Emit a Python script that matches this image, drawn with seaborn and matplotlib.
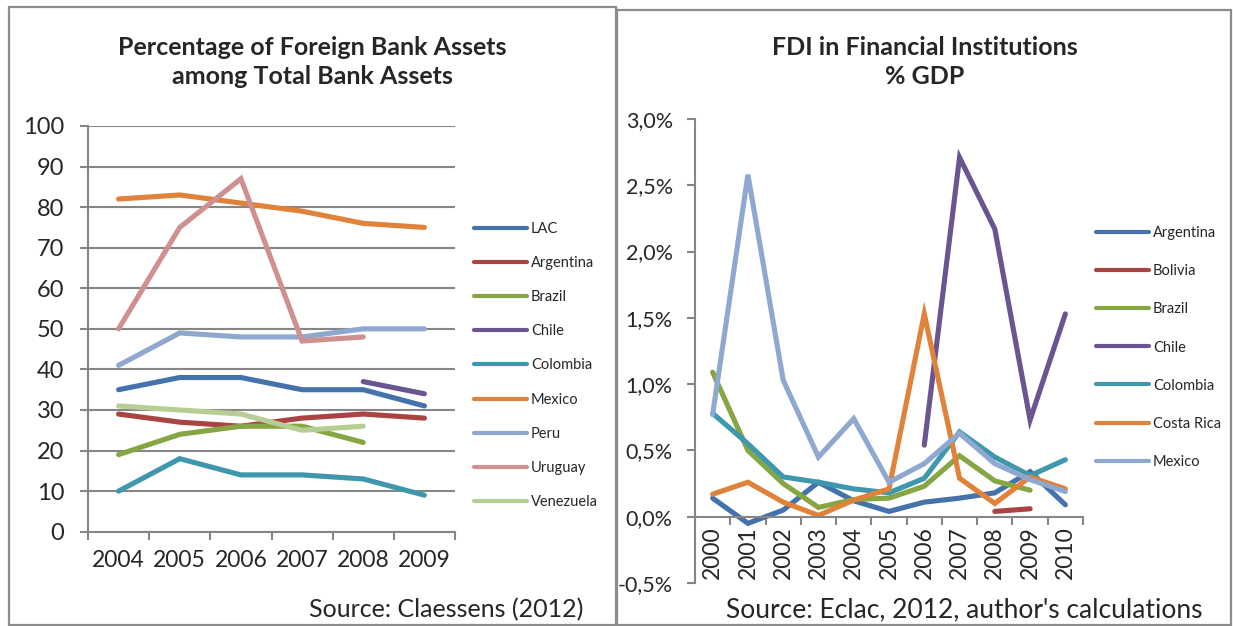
import numpy as np
import pandas as pd
import matplotlib
matplotlib.use("Agg")
import matplotlib.pyplot as plt
import seaborn as sns
from matplotlib.lines import Line2D
from matplotlib.patches import Rectangle
from matplotlib.ticker import FixedLocator, FuncFormatter

# Left chart: foreign bank assets share (%)
years_left = [2004, 2005, 2006, 2007, 2008, 2009]
left_series = {
    "LAC":       [35, 38, 38, 35, 35, 31],
    "Argentina": [29, 27, 26, 28, 29, 28],
    "Brazil":    [19, 24, 26, 26, 22, None],
    "Chile":     [None, None, None, None, 37, 34],
    "Colombia":  [10, 18, 14, 14, 13, 9],
    "Mexico":    [82, 83, 81, 79, 76, 75],
    "Peru":      [41, 49, 48, 48, 50, 50],
    "Uruguay":   [50, 75, 87, 47, 48, None],
    "Venezuela": [31, 30, 29, 25, 26, None],
}
left_colors = ["#4472AA", "#A94442", "#86A543", "#6B5590", "#3F97AE",
               "#E0823A", "#8EA8D0", "#D09090", "#B6CD93"]

# Right chart: FDI in financial institutions (% GDP)
years_right = list(range(2000, 2011))
right_series = {
    "Argentina":  [0.14, -0.05, 0.05, 0.26, 0.12, 0.04, 0.11, 0.14, 0.18, 0.34, 0.09],
    "Bolivia":    [None, None, None, None, None, None, None, None, 0.04, 0.06, None],
    "Brazil":     [1.09, 0.50, 0.25, 0.07, 0.13, 0.14, 0.23, 0.46, 0.27, 0.20, None],
    "Chile":      [None, None, None, None, None, None, 0.54, 2.71, 2.17, 0.73, 1.53],
    "Colombia":   [0.78, 0.55, 0.30, 0.26, 0.21, 0.18, 0.29, 0.64, 0.45, 0.31, 0.43],
    "Costa Rica": [0.17, 0.26, 0.11, 0.01, 0.125, 0.21, 1.53, 0.29, 0.10, 0.30, 0.21],
    "Mexico":     [0.77, 2.58, 1.03, 0.45, 0.74, 0.26, 0.40, 0.63, 0.40, 0.28, 0.19],
}
right_colors = ["#4472AA", "#A94442", "#86A543", "#6B5590", "#3F97AE",
                "#E0823A", "#8EA8D0"]


def to_long(years, series):
    rows = []
    for name, vals in series.items():
        for y, v in zip(years, vals):
            if v is not None:
                rows.append({"year": y, "value": v, "country": name})
    return pd.DataFrame(rows)


sns.set_theme(style="white")
plt.rcParams["font.family"] = ["Lato", "DejaVu Sans"]

W, H = 1233, 626
fig = plt.figure(figsize=(W / 100, H / 100), dpi=100)
grey = "#868686"
LW = 3.7


def fx(px):
    return px / W


def fy(py):
    return 1 - py / H


# panel frames
fig.add_artist(Rectangle((fx(9), fy(625)), fx(607), (618) / H, transform=fig.transFigure,
                         fill=False, edgecolor="#8C8C8C", lw=1.6))
fig.add_artist(Rectangle((fx(617), fy(625)), fx(614), (615) / H, transform=fig.transFigure,
                         fill=False, edgecolor="#8C8C8C", lw=1.6))

# ---------------- left chart ----------------
ax1 = fig.add_axes([fx(88), fy(531.7), fx(367), (531.7 - 126) / H])
df_left = to_long(years_left, left_series)
sns.lineplot(data=df_left, x="year", y="value", hue="country",
             hue_order=list(left_series.keys()), palette=left_colors,
             estimator=None, sort=False, legend=False, ax=ax1,
             lw=LW, solid_capstyle="round", solid_joinstyle="miter")
ax1.set_xlim(2003.5, 2009.5)
ax1.set_ylim(0, 100)
ax1.set_yticks(np.arange(0, 101, 10))
ax1.set_xticks(years_left)
ax1.xaxis.set_minor_locator(FixedLocator(np.arange(2003.5, 2010, 1)))
ax1.grid(axis="y", color=grey, lw=1.5)
ax1.set_axisbelow(True)
for s in ["top", "right"]:
    ax1.spines[s].set_visible(False)
for s in ["left", "bottom"]:
    ax1.spines[s].set_color(grey)
    ax1.spines[s].set_linewidth(1.5)
ax1.tick_params(axis="y", which="major", length=6, width=1.5, color=grey,
                direction="out", labelsize=17, pad=11, left=True)
ax1.tick_params(axis="x", which="major", length=0, labelsize=16.5, pad=13)
ax1.tick_params(axis="x", which="minor", length=6, width=1.5, color=grey,
                direction="out", bottom=True)
ax1.set_xlabel("")
ax1.set_ylabel("")
fig.text(fx(312), fy(62), "Percentage of Foreign Bank Assets\namong Total Bank Assets",
         ha="center", va="center", fontsize=18, fontweight="bold", linespacing=1.3)
fig.text(fx(583), fy(610), "Source: Claessens (2012)", ha="right", va="center", fontsize=18)

h1 = [Line2D([], [], color=c, lw=3, solid_capstyle="round") for c in left_colors]
fig.legend(h1, list(left_series.keys()), loc="center left",
           bbox_to_anchor=(fx(474), fy(365.5)), frameon=False, fontsize=10.5,
           handlelength=3.6, handletextpad=0.3, labelspacing=1.38,
           borderpad=0, borderaxespad=0)

# ---------------- right chart ----------------
ax2 = fig.add_axes([fx(695), fy(583), fx(388), (583 - 119) / H])
df_right = to_long(years_right, right_series)
sns.lineplot(data=df_right, x="year", y="value", hue="country",
             hue_order=list(right_series.keys()), palette=right_colors,
             estimator=None, sort=False, legend=False, ax=ax2,
             lw=LW, solid_capstyle="round", solid_joinstyle="miter")
ax2.set_xlim(1999.5, 2010.5)
ax2.set_ylim(-0.5, 3.0)
ax2.set_yticks(np.arange(-0.5, 3.01, 0.5))
ax2.yaxis.set_major_formatter(FuncFormatter(lambda v, p: f"{v:.1f}%".replace(".", ",")))
ax2.set_xticks(years_right)
ax2.set_xticklabels([str(y) for y in years_right])
ax2.xaxis.set_minor_locator(FixedLocator(np.arange(1999.5, 2011, 1)))
ax2.spines["bottom"].set_position(("data", 0))
for s in ["top", "right"]:
    ax2.spines[s].set_visible(False)
for s in ["left", "bottom"]:
    ax2.spines[s].set_color(grey)
    ax2.spines[s].set_linewidth(1.5)
ax2.tick_params(axis="y", which="major", length=6, width=1.5, color=grey,
                direction="out", labelsize=15.5, pad=10, left=True)
ax2.tick_params(axis="x", which="major", length=0, labelsize=16.5, pad=7,
                labelrotation=90)
ax2.tick_params(axis="x", which="minor", length=6, width=1.5, color=grey,
                direction="out", bottom=True)
ax2.set_xlabel("")
ax2.set_ylabel("")
fig.text(fx(925), fy(62), "FDI in Financial Institutions\n% GDP",
         ha="center", va="center", fontsize=18, fontweight="bold", linespacing=1.3)
fig.text(fx(1203), fy(610), "Source: Eclac, 2012, author's calculations",
         ha="right", va="center", fontsize=19)

h2 = [Line2D([], [], color=c, lw=3, solid_capstyle="round") for c in right_colors]
fig.legend(h2, list(right_series.keys()), loc="center left",
           bbox_to_anchor=(fx(1096), fy(347.5)), frameon=False, fontsize=10.5,
           handlelength=3.6, handletextpad=0.3, labelspacing=1.65,
           borderpad=0, borderaxespad=0)

fig.savefig("out.png", dpi=100)
